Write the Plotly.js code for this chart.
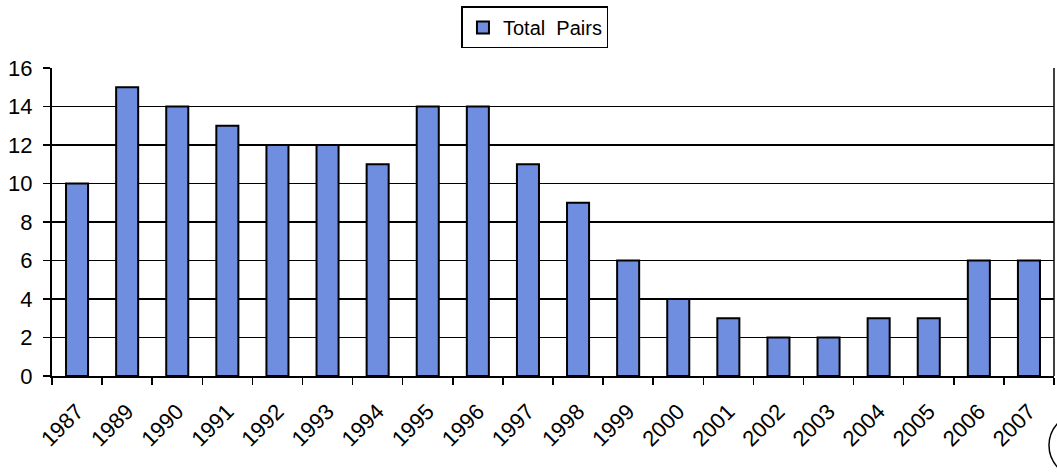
<!DOCTYPE html>
<html>
<head>
<meta charset="utf-8">
<script src="https://cdn.plot.ly/plotly-3.0.1.min.js"></script>
<style>
  html, body { margin: 0; padding: 0; background: #ffffff; }
  #chart { width: 1057px; height: 476px; }
</style>
</head>
<body>
<div id="chart"></div>
<script>
// Breeding pairs counted each year
const years = ['1987', '1989', '1990', '1991', '1992', '1993', '1994', '1995', '1996', '1997',
               '1998', '1999', '2000', '2001', '2002', '2003', '2004', '2005', '2006', '2007'];
const totalPairs = [10, 15, 14, 13, 12, 12, 11, 14, 14, 11, 9, 6, 4, 3, 2, 2, 3, 3, 6, 6];
const yTicks = [0, 2, 4, 6, 8, 10, 12, 14, 16];

const font = 'Liberation Sans, Arial, sans-serif';

const trace = {
  type: 'bar',
  name: 'Total  Pairs',
  x: years,
  y: totalPairs,
  marker: { color: '#6f8ee0', line: { color: '#000000', width: 2 } },
  hoverinfo: 'x+y'
};

const layout = {
  width: 1057,
  height: 476,
  margin: { l: 52, r: 3, t: 68, b: 100 },
  paper_bgcolor: '#ffffff',
  plot_bgcolor: '#ffffff',
  bargap: 0.56,
  font: { family: font, color: '#000000' },
  showlegend: true,
  legend: {
    orientation: 'h',
    x: 0.482, xanchor: 'center',
    y: 1.2, yanchor: 'top',
    bordercolor: '#000000', borderwidth: 1.5,
    bgcolor: '#ffffff',
    itemwidth: 30,
    font: { family: font, size: 20, color: '#000000' }
  },
  xaxis: {
    type: 'category',
    tickson: 'boundaries',
    ticks: 'outside', ticklen: 7, tickwidth: 1.5, tickcolor: '#000000',
    tickangle: -45,
    ticklabelstandoff: 12,
    tickfont: { family: font, size: 22, color: '#000000' },
    showgrid: false,
    showline: true, linecolor: '#000000', linewidth: 2,
    mirror: false,
    zeroline: false
  },
  yaxis: {
    range: [0, 16],
    tickvals: yTicks,
    ticktext: yTicks.map(String),
    ticks: 'outside', ticklen: 7, tickwidth: 1.5, tickcolor: '#000000',
    ticklabelstandoff: 6,
    tickfont: { family: font, size: 22, color: '#000000' },
    showgrid: true, gridcolor: '#000000', gridwidth: 1.5,
    showline: true, linecolor: '#000000', linewidth: 2,
    zeroline: false
  },
  shapes: [
    // right-hand border of the plot area
    { type: 'line', xref: 'paper', yref: 'paper', x0: 1, x1: 1, y0: 0, y1: 1,
      line: { color: '#000000', width: 1.5 } },
    // partial circle mark at the lower right corner
    { type: 'circle', xref: 'paper', yref: 'paper',
      x0: 0.995, x1: 1.06, y0: -0.33, y1: -0.12,
      line: { color: '#000000', width: 1.5 } }
  ]
};

Plotly.newPlot('chart', [trace], layout, { displayModeBar: false, staticPlot: true });
</script>
</body>
</html>
